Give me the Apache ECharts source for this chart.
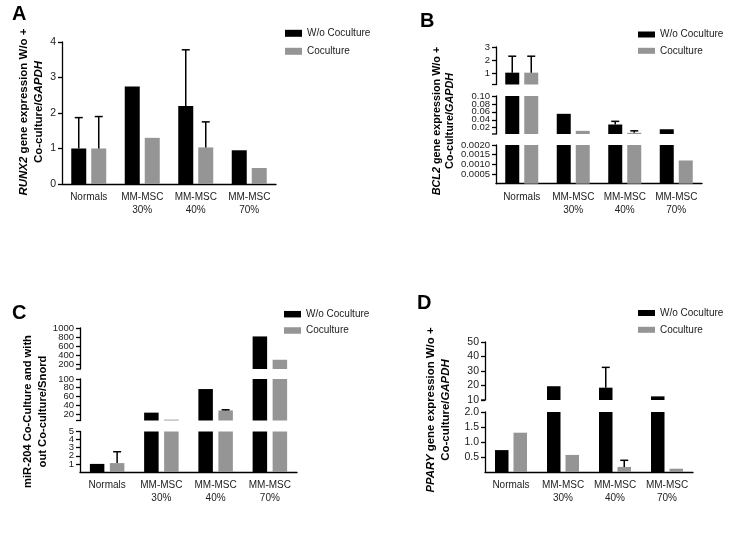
<!DOCTYPE html>
<html>
<head>
<meta charset="utf-8">
<script src="https://cdn.jsdelivr.net/npm/echarts@6/dist/echarts.min.js"></script>
<style>html,body{margin:0;padding:0;background:#fff}#c{width:734px;height:543px}</style>
</head>
<body>
<div id="c"></div>
<script>
// ---- data ----
const categories = ['Normals', 'MM-MSC\n30%', 'MM-MSC\n40%', 'MM-MSC\n70%'];
const seriesNames = ['W/o Coculture', 'Coculture'];

// A: RUNX2
const runx2Wo = [1.0, 2.75, 2.2, 0.95];
const runx2Co = [1.0, 1.3, 1.03, 0.45];
const runx2WoErr = [0.87, null, 1.58, null];
const runx2CoErr = [0.9, null, 0.72, null];
const runx2Segments = [[0, 4]];

// B: BCL2
const bcl2Wo = [1.05, 0.055, 0.028, 0.016];
const bcl2Co = [1.05, 0.012, 0.007, 0.0012];
const bcl2WoErr = [1.25, null, 0.008, null];
const bcl2CoErr = [1.25, null, 0.005, null];
const bcl2Segments = [[0, 0.002], [0.004, 0.1], [0.15, 3]];

// C: miR-204
const mirWo = [1.0, 23, 77, 815];
const mirCo = [1.1, 7, 28, 303];
const mirWoErr = [null, null, null, null];
const mirCoErr = [1.4, null, 1.5, null];
const mirSegments = [[0, 5], [5, 100], [100, 1000]];

// D: PPARY
const pparWo = [0.73, 19.5, 18.5, 12.5];
const pparCo = [1.31, 0.57, 0.17, 0.11];
const pparWoErr = [null, null, 14, null];
const pparCoErr = [null, null, 0.22, null];
const pparSegments = [[0, 2], [10, 50]];

// ---- build ----
const FONT = 'Liberation Sans, Arial, sans-serif';
const BLACK = '#000000', GRAY = '#959595';
const grids = [], xAxes = [], yAxes = [], series = [];

function errData(vals, errs) {
  const out = [];
  vals.forEach((v, i) => { if (errs[i] != null) out.push([i, v, v + errs[i]]); });
  return out;
}
function errRender(offset) {
  return function (params, api) {
    const cat = api.value(0), lo = api.value(1), hi = api.value(2);
    const p0 = api.coord([cat, lo]), p1 = api.coord([cat, hi]);
    const cs = params.coordSys;
    const x = p0[0] + offset;
    const yb = Math.min(p0[1], cs.y + cs.height);
    const yt = Math.max(p1[1], cs.y);
    if (yt >= yb) return null;
    const st = { stroke: '#000', lineWidth: 1.5 };
    const ch = [{ type: 'line', shape: { x1: x, y1: yb, x2: x, y2: yt }, style: st }];
    if (p1[1] >= cs.y - 0.5 && p1[1] <= cs.y + cs.height) {
      ch.push({ type: 'line', shape: { x1: x - 4, y1: p1[1], x2: x + 4, y2: p1[1] }, style: st });
    }
    return { type: 'group', children: ch };
  };
}
// small end mark ("hook") at the lower end of a broken-axis segment
function hookRender(params, api) {
  const cs = params.coordSys;
  const y = api.coord([0, api.value(1)])[1];
  return { type: 'line', shape: { x1: cs.x - 4, y1: y, x2: cs.x, y2: y },
    style: { stroke: '#000', lineWidth: 1.3 } };
}

function addPanel(p) {
  p.segs.forEach((s, si) => {
    const gi = grids.length;
    const bottom = si === 0;
    const lo = s.range[0], hi = s.range[1];
    grids.push({ left: p.left, width: p.width, top: s.top, height: s.height });
    xAxes.push({
      type: 'category', gridIndex: gi, data: categories, show: bottom,
      axisLine: { lineStyle: { color: '#000', width: 1.3 } },
      axisTick: { alignWithLabel: true, length: 4, lineStyle: { color: '#000', width: 1.3 } },
      axisLabel: { interval: 0, fontSize: 10, color: '#222', lineHeight: 12.7, margin: 7, fontFamily: FONT }
    });
    yAxes.push({
      type: 'value', gridIndex: gi, min: lo, max: s.eps ? hi * (1 + 1e-7) : hi,
      interval: s.interval, splitNumber: s.split,
      splitLine: { show: false },
      axisLine: { show: true, lineStyle: { color: '#000', width: 1.3 } },
      axisTick: { show: true, length: 4, lineStyle: { color: '#000', width: 1.3 } },
      axisLabel: { fontSize: p.tickFont, color: '#222', fontFamily: FONT, margin: 6,
        hideOverlap: false,
        formatter: s.fmt, showMinLabel: s.showMin, showMaxLabel: !s.eps }
    });
    const off = (p.barWidth + p.gapPx) / 2;
    series.push({ type: 'bar', name: seriesNames[0], xAxisIndex: gi, yAxisIndex: gi, data: p.wo,
      barWidth: p.barWidth, barGap: (p.gapPx / p.barWidth * 100) + '%', itemStyle: { color: BLACK }, clip: true });
    series.push({ type: 'bar', name: seriesNames[1], xAxisIndex: gi, yAxisIndex: gi, data: p.co,
      barWidth: p.barWidth, barGap: (p.gapPx / p.barWidth * 100) + '%', itemStyle: { color: GRAY }, clip: true });
    series.push({ type: 'custom', xAxisIndex: gi, yAxisIndex: gi, data: errData(p.wo, p.woErr),
      renderItem: errRender(-off), clip: false, z: 5, silent: true });
    series.push({ type: 'custom', xAxisIndex: gi, yAxisIndex: gi, data: errData(p.co, p.coErr),
      renderItem: errRender(off), clip: false, z: 5, silent: true });
    if (!bottom) {
      series.push({ type: 'custom', xAxisIndex: gi, yAxisIndex: gi, data: [[0, lo]],
        renderItem: hookRender, clip: false, z: 5, silent: true });
    }
  });
}

const fInt = v => String(Math.round(v));

addPanel({ left: 62, width: 214, barWidth: 15, gapPx: 5, tickFont: 10.5,
  wo: runx2Wo, co: runx2Co, woErr: runx2WoErr, coErr: runx2CoErr,
  segs: [{ range: runx2Segments[0], top: 42, height: 142, interval: 1, fmt: fInt, showMin: true }] });

addPanel({ left: 496, width: 206, barWidth: 14, gapPx: 5, tickFont: 9.5,
  wo: bcl2Wo, co: bcl2Co, woErr: bcl2WoErr, coErr: bcl2CoErr,
  segs: [
    { range: bcl2Segments[0], top: 145, height: 38.7, interval: 0.0005, fmt: v => v.toFixed(4), showMin: false, eps: true },
    { range: bcl2Segments[1], top: 96, height: 38, split: 5, fmt: v => v.toFixed(2), showMin: false, eps: true },
    { range: bcl2Segments[2], top: 47, height: 37.5, split: 3, fmt: fInt, showMin: false, eps: true }
  ] });

addPanel({ left: 80, width: 217, barWidth: 14.5, gapPx: 5.5, tickFont: 9.5,
  wo: mirWo, co: mirCo, woErr: mirWoErr, coErr: mirCoErr,
  segs: [
    { range: mirSegments[0], top: 431.5, height: 40.5, interval: 1, fmt: fInt, showMin: false, eps: true },
    { range: mirSegments[1], top: 379, height: 41.5, split: 5, fmt: fInt, showMin: false, eps: true },
    { range: mirSegments[2], top: 328, height: 41, split: 5, fmt: fInt, showMin: false, eps: true }
  ] });

addPanel({ left: 485, width: 208, barWidth: 13.5, gapPx: 5, tickFont: 10.5,
  wo: pparWo, co: pparCo, woErr: pparWoErr, coErr: pparCoErr,
  segs: [
    { range: pparSegments[0], top: 412, height: 60, interval: 0.5, fmt: v => v.toFixed(1), showMin: false, eps: true },
    { range: pparSegments[1], top: 342, height: 58, interval: 10, fmt: fInt, showMin: true, eps: true }
  ] });

function legendAt(left, top, gap, ih) {
  return { left: left, top: top, orient: 'vertical', data: seriesNames, icon: 'rect',
    itemWidth: 17, itemHeight: ih, itemGap: gap, selectedMode: false, padding: 0,
    textStyle: { fontSize: 10, color: '#222', fontFamily: FONT, lineHeight: 12 } };
}
function letter(t, left, top) {
  return { text: t, left: left, top: top, padding: 0,
    textStyle: { fontSize: 20, fontWeight: 'bold', color: '#000', fontFamily: FONT } };
}
function yTitle(x, y, fs, lh, text) {
  const base = { fontWeight: 'bold', fontSize: fs, fontFamily: FONT, fill: '#000', lineHeight: lh };
  return { type: 'text', x: x, y: y, rotation: Math.PI / 2, silent: true,
    style: { text: text, align: 'center', verticalAlign: 'middle', fill: '#000',
      font: 'bold ' + fs + 'px ' + FONT, lineHeight: lh,
      rich: { b: base, i: Object.assign({}, base, { fontStyle: 'italic' }) } } };
}

const option = {
  animation: false,
  backgroundColor: '#fff',
  title: [letter('A', 12, 4), letter('B', 420, 11), letter('C', 12, 303), letter('D', 417, 293)],
  legend: [legendAt(285, 27.3, 6, 7), legendAt(638, 28.5, 4.3, 6), legendAt(284, 308.2, 4.3, 6.5), legendAt(638, 307, 4.8, 6)],
  grid: grids, xAxis: xAxes, yAxis: yAxes, series: series,
  graphic: [
    yTitle(31.5, 112, 11.5, 15, '{i|RUNX2}{b| gene expression W/o +}\n{b|Co-culture/}{i|GAPDH}'),
    yTitle(443.5, 121, 10.8, 13.5, '{i|BCL2}{b| gene expression W/o +}\n{b|Co-culture/}{i|GAPDH}'),
    yTitle(35.5, 411.5, 11.2, 15, '{b|miR-204 Co-Culture and with}\n{b|out Co-culture/Snord}'),
    yTitle(438.5, 410, 11.4, 15, '{i|PPARY}{b| gene expression W/o +}\n{b|Co-culture/}{i|GAPDH}')
  ]
};
const chart = echarts.init(document.getElementById('c'), null, { renderer: 'canvas' });
chart.setOption(option);
</script>
</body>
</html>
